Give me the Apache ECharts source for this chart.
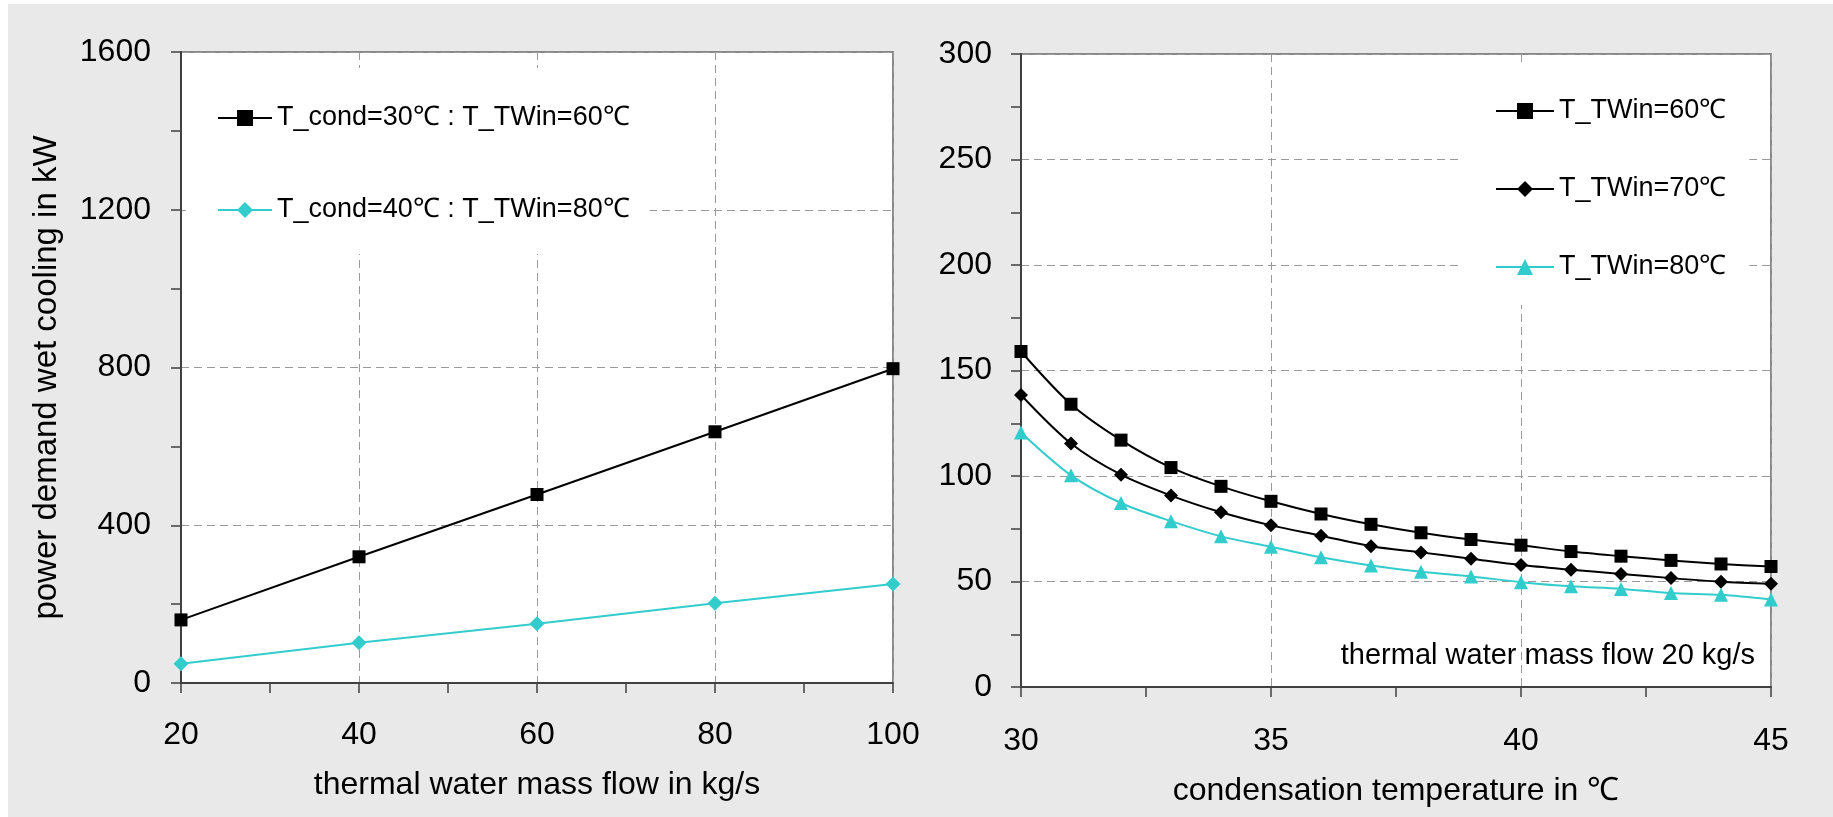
<!DOCTYPE html>
<html>
<head>
<meta charset="utf-8">
<script src="https://cdn.jsdelivr.net/npm/echarts@6/dist/echarts.min.js"></script>
<style>
  html, body { margin: 0; padding: 0; background: #fff; }
  #bg { position: absolute; left: 8px; top: 4px; right: 0; bottom: 0; background: #e9e9e9; }
  #chart { position: absolute; left: 0; top: 0; width: 1833px; height: 817px; }
</style>
</head>
<body>
<div id="bg"></div>
<div id="chart"></div>
<script>
// left panel: power demand vs thermal water mass flow
const flowX = [20, 40, 60, 80, 100]
const cond30 = [160, 320, 478, 637, 797]
const cond40 = [49, 102, 150, 202, 251]

// right panel: power demand vs condensation temperature (20 kg/s)
const tempX = [30, 31, 32, 33, 34, 35, 36, 37, 38, 39, 40, 41, 42, 43, 44, 45]
const tw60 = [159, 134, 117, 104, 95.1, 88, 82, 77.1, 73.1, 69.9, 67.2, 64.2, 62, 60, 58.3, 57.1]
const tw70 = [138.4, 115.4, 100.6, 90.7, 82.8, 76.6, 71.7, 66.7, 63.8, 60.8, 57.8, 55.6, 53.6, 51.6, 49.9, 48.9]
const tw80 = [120.6, 100.3, 87.2, 78.6, 71.4, 66.5, 61.5, 57.6, 54.6, 52.4, 49.7, 47.7, 46.5, 44.5, 43.7, 41.5]

const leftNames = ['T_cond=30℃ : T_TWin=60℃', 'T_cond=40℃ : T_TWin=80℃']
const rightNames = ['T_TWin=60℃', 'T_TWin=70℃', 'T_TWin=80℃']
const noteText = 'thermal water mass flow 20 kg/s'

const FONT = '"Liberation Sans", Arial, sans-serif'
const AXIS_DARK = '#404040'
const CYAN = '#33cccc'

function pairs(xs, ys) {
  return xs.map((x, i) => [x, ys[i]])
}

function label(margin) {
  return { color: '#000', fontSize: 32, fontFamily: FONT, margin, formatter: v => String(v) }
}

function valueAxis(gridIndex, min, max, interval, extra) {
  return Object.assign({
    type: 'value',
    gridIndex,
    min,
    max,
    interval,
    axisLine: { show: true, lineStyle: { color: AXIS_DARK, width: 2 } },
    axisTick: { show: true, inside: false, length: 10, lineStyle: { color: AXIS_DARK, width: 1.5 } },
    minorTick: { show: true, splitNumber: 2, length: 10, lineStyle: { color: AXIS_DARK, width: 1.5 } },
    splitLine: { show: true, lineStyle: { color: '#9a9a9a', width: 1, type: [8, 5] } },
    nameTextStyle: { color: '#000', fontSize: 32, fontFamily: FONT }
  }, extra)
}

const chart = echarts.init(document.getElementById('chart'))

const option = {
  backgroundColor: 'transparent',
  animation: false,
  grid: [
    { left: 181, top: 52, width: 712, height: 631, show: true, backgroundColor: '#fff', borderColor: '#888', borderWidth: 2 },
    { left: 1021, top: 54, width: 750, height: 633, show: true, backgroundColor: '#fff', borderColor: '#888', borderWidth: 2 }
  ],
  xAxis: [
    valueAxis(0, 20, 100, 20, {
      name: 'thermal water mass flow in kg/s',
      nameLocation: 'middle',
      nameGap: 86,
      axisLabel: label(36)
    }),
    valueAxis(1, 30, 45, 5, {
      name: 'condensation temperature in ℃',
      nameLocation: 'middle',
      nameGap: 88,
      axisLabel: label(38)
    })
  ],
  yAxis: [
    valueAxis(0, 0, 1600, 400, {
      name: 'power demand wet cooling in kW',
      nameLocation: 'middle',
      nameGap: 118,
      nameTextStyle: { color: '#000', fontSize: 33, fontFamily: FONT, padding: [0, 20, 0, 0] },
      axisLabel: label(30)
    }),
    valueAxis(1, 0, 300, 50, {
      axisLabel: label(29)
    })
  ],
  legend: [
    {
      data: leftNames,
      orient: 'vertical',
      left: 186,
      top: 68,
      padding: [34, 20, 28, 31],
      itemGap: 60,
      itemWidth: 54,
      itemHeight: 20,
      backgroundColor: '#fff',
      textStyle: { color: '#000', fontSize: 27, fontFamily: FONT, lineHeight: 32 }
    },
    {
      data: rightNames,
      orient: 'vertical',
      left: 1459,
      top: 62,
      padding: [33, 23, 22, 36],
      itemGap: 46,
      itemWidth: 58,
      itemHeight: 20,
      backgroundColor: '#fff',
      textStyle: { color: '#000', fontSize: 27, fontFamily: FONT, lineHeight: 32 }
    }
  ],
  graphic: [
    {
      type: 'text',
      right: 1833 - 1755,
      top: 641,
      style: { text: noteText, fill: '#000', font: '29px ' + FONT }
    }
  ],
  series: [
    {
      name: leftNames[0], type: 'line', xAxisIndex: 0, yAxisIndex: 0,
      data: pairs(flowX, cond30),
      symbol: 'rect', symbolSize: 13,
      lineStyle: { color: '#000', width: 2 }, itemStyle: { color: '#000' }
    },
    {
      name: leftNames[1], type: 'line', xAxisIndex: 0, yAxisIndex: 0,
      data: pairs(flowX, cond40),
      symbol: 'diamond', symbolSize: 15,
      lineStyle: { color: CYAN, width: 2 }, itemStyle: { color: CYAN }
    },
    {
      name: rightNames[0], type: 'line', xAxisIndex: 1, yAxisIndex: 1,
      data: pairs(tempX, tw60), smooth: 0.3,
      symbol: 'rect', symbolSize: 13,
      lineStyle: { color: '#000', width: 2 }, itemStyle: { color: '#000' }
    },
    {
      name: rightNames[1], type: 'line', xAxisIndex: 1, yAxisIndex: 1,
      data: pairs(tempX, tw70), smooth: 0.3,
      symbol: 'diamond', symbolSize: 14,
      lineStyle: { color: '#000', width: 2 }, itemStyle: { color: '#000' }
    },
    {
      name: rightNames[2], type: 'line', xAxisIndex: 1, yAxisIndex: 1,
      data: pairs(tempX, tw80), smooth: 0.3,
      symbol: 'triangle', symbolSize: 14,
      lineStyle: { color: CYAN, width: 2 }, itemStyle: { color: CYAN }
    }
  ]
}

chart.setOption(option)
</script>
</body>
</html>
